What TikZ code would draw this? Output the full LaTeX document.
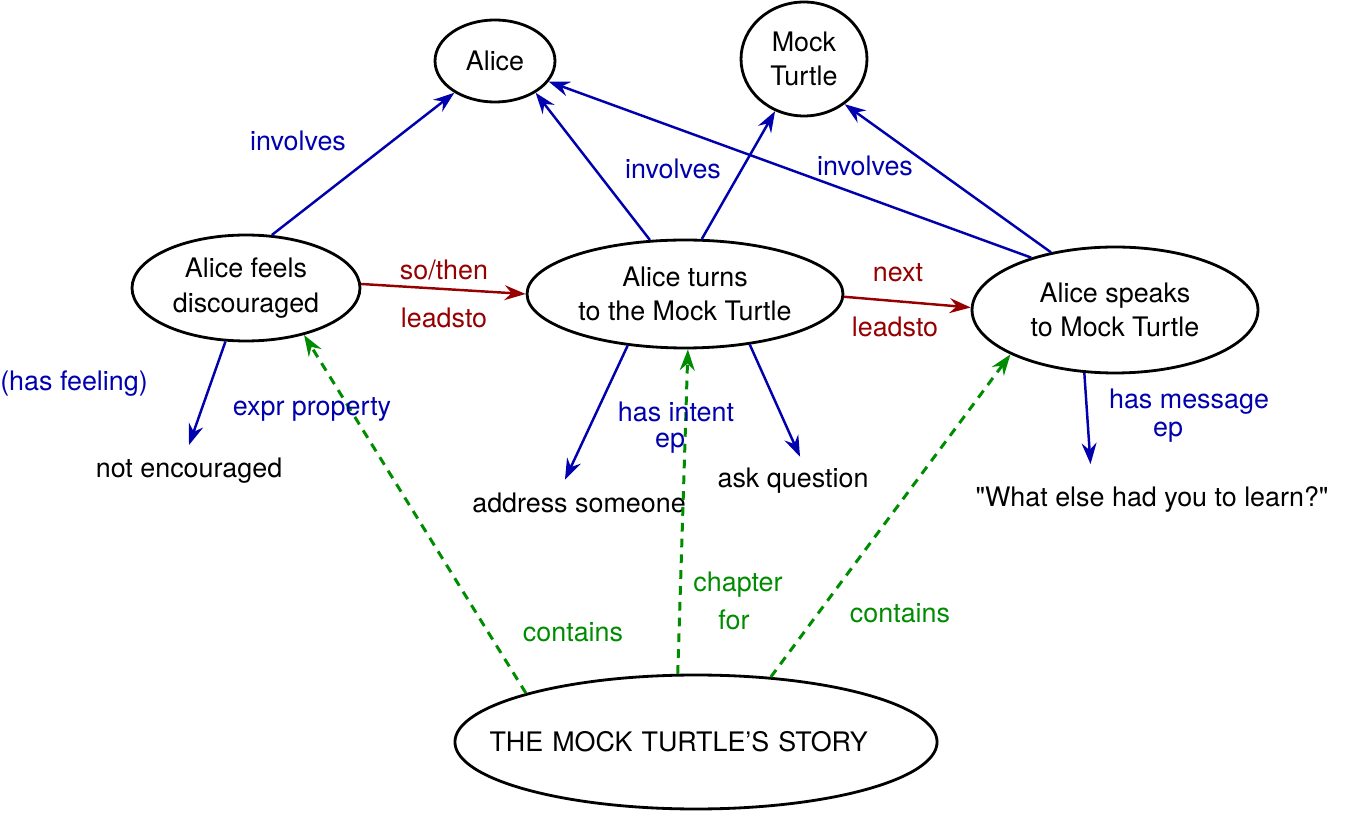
\documentclass[tikz,border=0pt]{standalone}
\usepackage{fontspec}
\setmainfont{TeX Gyre Heros}[Ligatures=TeXOff]
\usetikzlibrary{arrows.meta,shapes.geometric}

\definecolor{relblue}{RGB}{0,0,175}
\definecolor{relred}{RGB}{150,0,0}
\definecolor{relgreen}{RGB}{0,140,0}

\tikzset{
  event/.style={draw=black, ellipse, line width=1.6pt, inner sep=0pt, align=center},
  rel/.style={-{Stealth[length=12pt,width=8.5pt,inset=4pt]}, line width=1.4pt},
  involve/.style={rel, color=relblue},
  seq/.style={rel, color=relred},
  part/.style={rel, color=relgreen, line width=1.7pt, dash pattern=on 5pt off 4pt},
  bluelbl/.style={text=relblue},
  redlbl/.style={text=relred},
  greenlbl/.style={text=relgreen}
}

\begin{document}
\begin{tikzpicture}[x=0.02cm, y=-0.02cm, font=\fontsize{15.3}{19.5}\selectfont]
\useasboundingbox (0,0) rectangle (1355,813);

% events
\node[event, minimum width=2.4cm, minimum height=1.64cm] (alice) at (495,61) {Alice};
\node[event, minimum width=2.52cm, minimum height=2.28cm] (turtle) at (804,59) {Mock\\Turtle};
\node[event, minimum width=4.56cm, minimum height=2.12cm] (feels) at (246,288) {Alice feels\\discouraged};
\node[event, minimum width=6.32cm, minimum height=2.16cm] (turns) at (685,294) {Alice turns\\to the Mock Turtle};
\node[event, minimum width=5.72cm, minimum height=2.52cm] (speaks) at (1115,310) {Alice speaks\\to Mock Turtle};
\node[event, minimum width=9.64cm, minimum height=2.68cm, text width=8.26cm, align=left, inner xsep=-0.72cm] (story) at (696,742) {THE MOCK TURTLE’S STORY};

% values
\node (notenc) at (189,471) {not encouraged};
\node (address) at (579,503) {address someone};
\node (ask) at (793,481) {ask question};
\node (learn) at (1152,499) {"What else had you to learn?"};

% relations
\draw[involve] (feels.64) -- (alice.218);
\draw[involve] (turns.123) -- (alice.322);
\draw[involve] (turns.73) -- (turtle.241);
\draw[involve] (speaks.148) -- (alice.339);
\draw[involve] (speaks.138) -- (turtle.312);
\draw[seq] (feels.2) -- (turns.180);
\draw[seq] (turns.359) -- (speaks.179);
\draw[involve] (feels.249) -- ([yshift=4pt]notenc.north);
\draw[involve] (turns.222) -- ([xshift=-8pt,yshift=4pt]address.north);
\draw[involve] (turns.322) -- ([xshift=4pt,yshift=3pt]ask.north);
\draw[involve] (speaks.244) -- ([xshift=-35pt,yshift=9pt]learn.north);
\draw[part] (story.164) -- (feels.321);
\draw[part] (story.105) -- (turns.273);
\draw[part] (story.41) -- (speaks.203);

% labels
\node[bluelbl] (inv1) at (298,141) {involves};
\node[bluelbl] (inv2) at (673,169) {involves};
\node[bluelbl] (inv3) at (865,166) {involves};
\node[redlbl] (then1) at (444,270) {so/then};
\node[redlbl] (lead1) at (444,318) {leadsto};
\node[redlbl] (next2) at (898,273) {next};
\node[redlbl] (lead2) at (895,327) {leadsto};
\node[bluelbl] (feeling) at (74,384) {(has feeling)};
\node[bluelbl] (expr) at (312,409) {expr property};
\node[bluelbl] (intent) at (676,412) {has intent};
\node[bluelbl] (ep1) at (670,443) {ep};
\node[bluelbl] (message) at (1189,402) {has message};
\node[bluelbl] (ep2) at (1168,432) {ep};
\node[greenlbl] (chapter) at (738,585) {chapter};
\node[greenlbl] (for) at (734,620) {for};
\node[greenlbl] (cont1) at (573,632) {contains};
\node[greenlbl] (cont2) at (900,613) {contains};

\end{tikzpicture}
\end{document}
